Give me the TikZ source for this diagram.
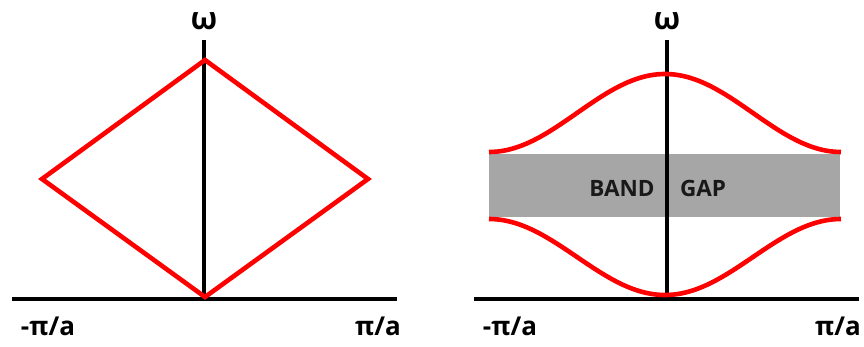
\documentclass[tikz,border=0pt]{standalone}
\usepackage{fontspec}
\setmainfont{Open Sans}[BoldFont={Open Sans Bold}]
\definecolor{bandred}{HTML}{FF0000}
\definecolor{gapgray}{HTML}{A6A6A6}
\tikzset{
  axisline/.style={line width=4.6pt, black},
  curveline/.style={line width=4.6pt, bandred, line join=miter},
  lbl/.style={font=\bfseries\fontsize{26}{28}\selectfont, inner sep=0pt},
  omega/.style={font=\bfseries\fontsize{31}{33}\selectfont, inner sep=0pt},
  gaptext/.style={font=\bfseries\fontsize{22.5}{25}\selectfont, inner sep=0pt, text=black!90}
}
\begin{document}
\begin{tikzpicture}[x=1pt,y=-1pt]
\useasboundingbox (0,0) rectangle (864,347);
% ---------- left diagram ----------
\coordinate (L0) at (12,299);
\coordinate (L1) at (397,299);
\coordinate (Lb) at (204,299);
\coordinate (Lt) at (204,40);
\draw[axisline] (L0) -- (L1);
\draw[axisline] (Lb) -- (Lt);
\coordinate (Dt) at (205,60);
\coordinate (Dl) at (42,179);
\coordinate (Dr) at (368,179);
\coordinate (Db) at (205,297);
\draw[curveline] (Dt) -- (Dr) -- (Db) -- (Dl) -- cycle;
\node[omega] (wl) at (204,21) {ω};
\node[lbl] (ml) at (48,326) {-π/a};
\node[lbl] (pl) at (378,326) {π/a};
% ---------- right diagram ----------
\fill[gapgray] (489,154) rectangle (840,217);
\coordinate (R0) at (474,299);
\coordinate (R1) at (859,299);
\coordinate (Rb) at (667,299);
\coordinate (Rt) at (667,40);
\draw[axisline] (R0) -- (R1);
\draw[axisline] (Rb) -- (Rt);
\draw[curveline] plot[domain=-1:1, samples=80, smooth] ({665+176*\x}, {113-39*cos(180*\x)});
\draw[curveline] plot[domain=-1:1, samples=80, smooth] ({665+176*\x}, {257+38*cos(180*\x)});
\node[gaptext] (band) at (622,188) {BAND};
\node[gaptext] (gap) at (703,188) {GAP};
\node[omega] (wr) at (667,21) {ω};
\node[lbl] (mr) at (510,326) {-π/a};
\node[lbl] (pr) at (838,326) {π/a};
\end{tikzpicture}
\end{document}
